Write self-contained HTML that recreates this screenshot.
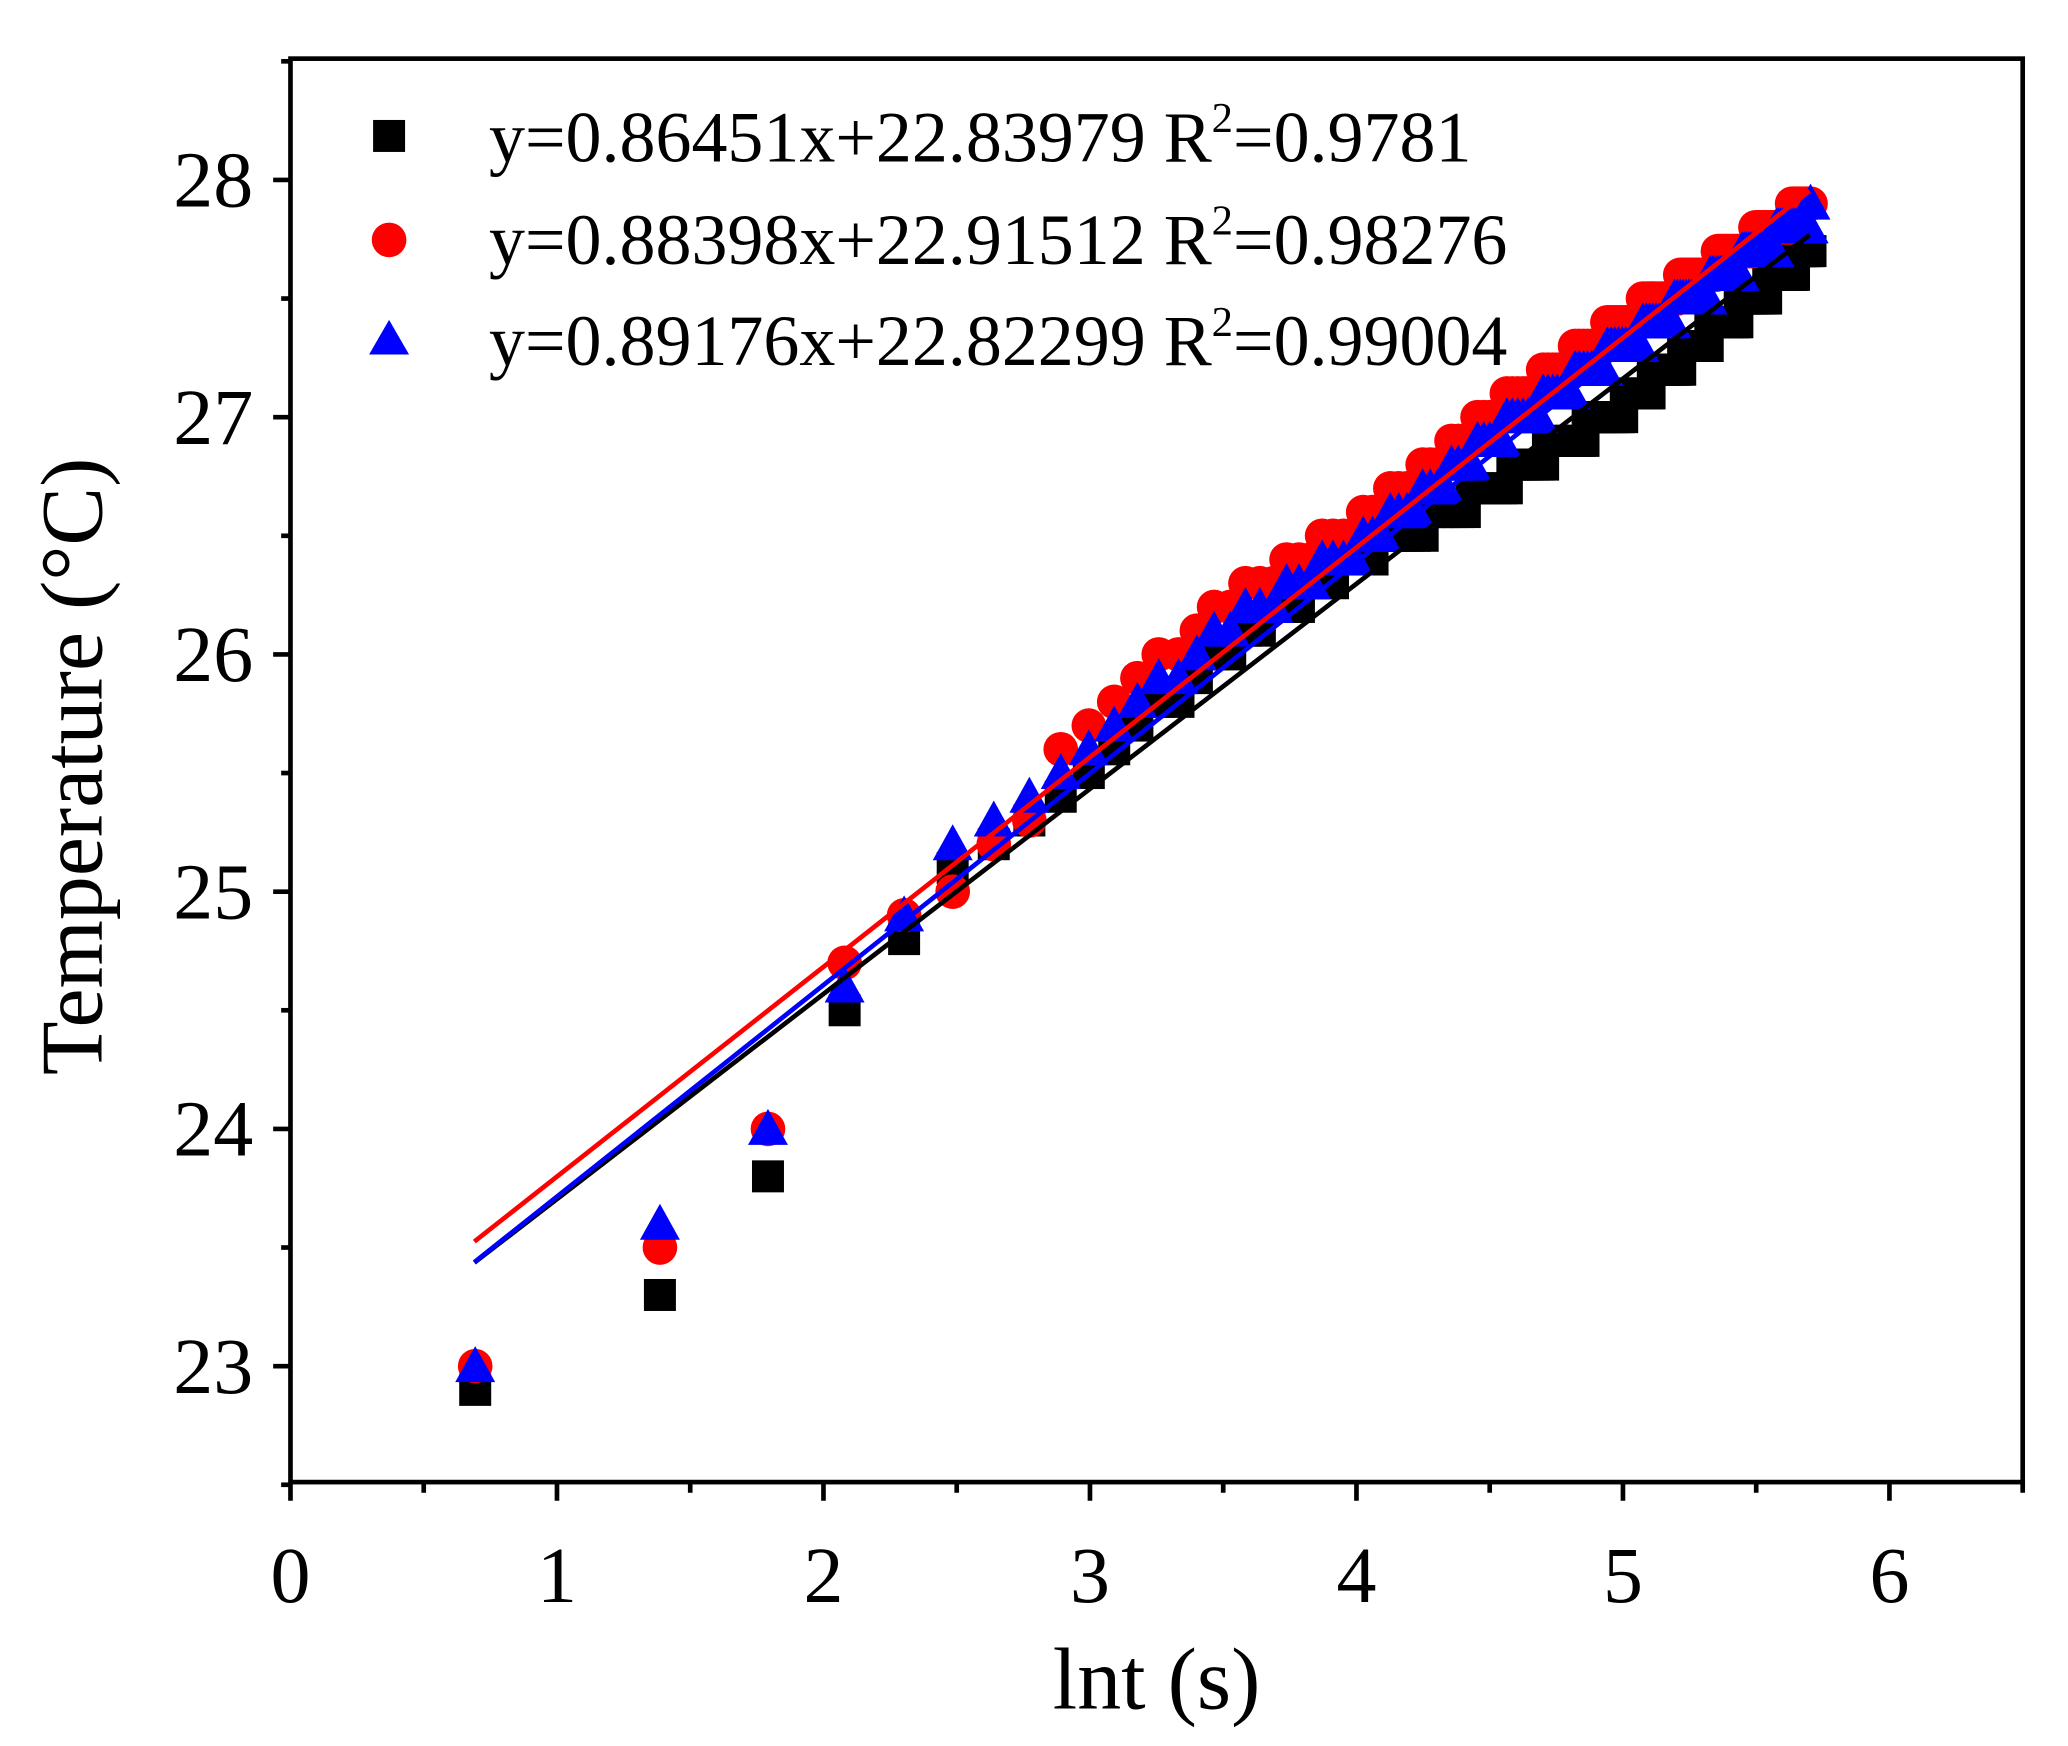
<!DOCTYPE html>
<html><head><meta charset="utf-8"><style>
html,body{margin:0;padding:0;background:#fff;}
svg{display:block;}
text{font-family:"Liberation Serif",serif;fill:#000;}
</style></head><body>
<svg id="s" width="2068" height="1746" viewBox="0 0 1552 1310" preserveAspectRatio="none" xmlns="http://www.w3.org/2000/svg">
<rect x="0" y="0" width="1552" height="1310" fill="#fff"/>
<g id="data"></g>
<rect x="218" y="44" width="1300" height="1068" fill="none" stroke="#000" stroke-width="3.5"/>
<g id="ticks" stroke="#000" stroke-width="3.5"></g>
<g font-size="60" text-anchor="middle">
<text x="218" y="1202">0</text><text x="418" y="1202">1</text><text x="618" y="1202">2</text>
<text x="818" y="1202">3</text><text x="1018" y="1202">4</text><text x="1218" y="1202">5</text><text x="1418" y="1202">6</text>
</g>
<g font-size="60" text-anchor="end">
<text x="190" y="1045">23</text><text x="190" y="867">24</text><text x="190" y="689">25</text>
<text x="190" y="511">26</text><text x="190" y="333">27</text><text x="190" y="155">28</text>
</g>
<text x="868" y="1282" font-size="66" text-anchor="middle">lnt (s)</text>
<text transform="translate(76,575) rotate(-90)" font-size="66" text-anchor="middle">Temperature (°C)</text>
<g font-size="54">
<rect x="280" y="90" width="24" height="24" fill="#000"/>
<text x="367" y="121">y=0.86451x+22.83979 R<tspan font-size="32" dy="-22">2</tspan><tspan dy="22">=0.9781</tspan></text>
<circle cx="292" cy="180" r="13" fill="#f00"/>
<text x="367" y="198">y=0.88398x+22.91512 R<tspan font-size="32" dy="-22">2</tspan><tspan dy="22">=0.98276</tspan></text>
<polygon points="292,240 307,266 277,266" fill="#00f"/>
<text x="367" y="274">y=0.89176x+22.82299 R<tspan font-size="32" dy="-22">2</tspan><tspan dy="22">=0.99004</tspan></text>
</g>
</svg>
<script>
var NS="http://www.w3.org/2000/svg";
function X(v){return 218+200*v;}
function Y(v){return 1025-178*(v-23);}
function el(p,n,a){var e=document.createElementNS(NS,n);for(var k in a)e.setAttribute(k,a[k]);p.appendChild(e);return e;}
var t=document.getElementById('ticks');
for(var i=0;i<=13;i++){var x=218+100*i;if(x>1518)break;el(t,'line',{x1:x,y1:1112,x2:x,y2:i%2?1120:1126});}
for(var v=22.5;v<=28.51;v+=0.5){var y=Y(v);el(t,'line',{x1:218,y1:y,x2:(Math.round(v*2)%2)?211:205,y2:y});}
function interp(a,x){for(var i=0;i<a.length-1;i++){if(x<=a[i+1][0]){var f=(x-a[i][0])/(a[i+1][0]-a[i][0]);return a[i][1]+f*(a[i+1][1]-a[i][1]);}}return a[a.length-1][1];}
var S=[
{c:'#000',m:'sq',early:[22.9,23.3,23.8,24.5,24.8,25.1,25.2,25.3,25.4],a:[[2.9,25.4],[3,25.5],[3.5,26.0],[4,26.4],[4.5,26.7],[5,27.05],[5.7,27.7]],k:0.86451,b:22.83979},
{c:'#f00',m:'ci',early:[23.0,23.5,24.0,24.7,24.9,25.0,25.2,25.3,25.6],a:[[2.9,25.6],[3,25.7],[3.5,26.2],[4,26.55],[4.5,27.0],[5,27.4],[5.7,27.9]],k:0.88398,b:22.91512},
{c:'#00f',m:'tr',early:[23.0,23.6,24.0,24.6,24.9,25.2,25.3,25.4,25.5],a:[[2.9,25.5],[3,25.6],[3.5,26.1],[4,26.45],[4.5,26.9],[5,27.3],[5.7,27.85]],k:0.89176,b:22.82299}
];
var g=document.getElementById('data');
S.forEach(function(s){
 for(var n=1;n<=150;n++){var x=Math.log(2*n);var y=n<=9?s.early[n-1]:Math.round(interp(s.a,x)*10)/10;
  var px=X(x),py=Y(y);
  if(s.m=='sq')el(g,'rect',{x:px-12,y:py-12,width:24,height:24,fill:s.c});
  else if(s.m=='ci')el(g,'circle',{cx:px,cy:py,r:13,fill:s.c});
  else el(g,'polygon',{points:(px)+','+(py-15)+' '+(px+15)+','+(py+12)+' '+(px-15)+','+(py+12),fill:s.c});
 }
});
S.forEach(function(s){var x1=0.69,x2=5.7;el(g,'line',{x1:X(x1),y1:Y(s.k*x1+s.b),x2:X(x2),y2:Y(s.k*x2+s.b),stroke:s.c,'stroke-width':3.5});});
</script>
</body></html>
